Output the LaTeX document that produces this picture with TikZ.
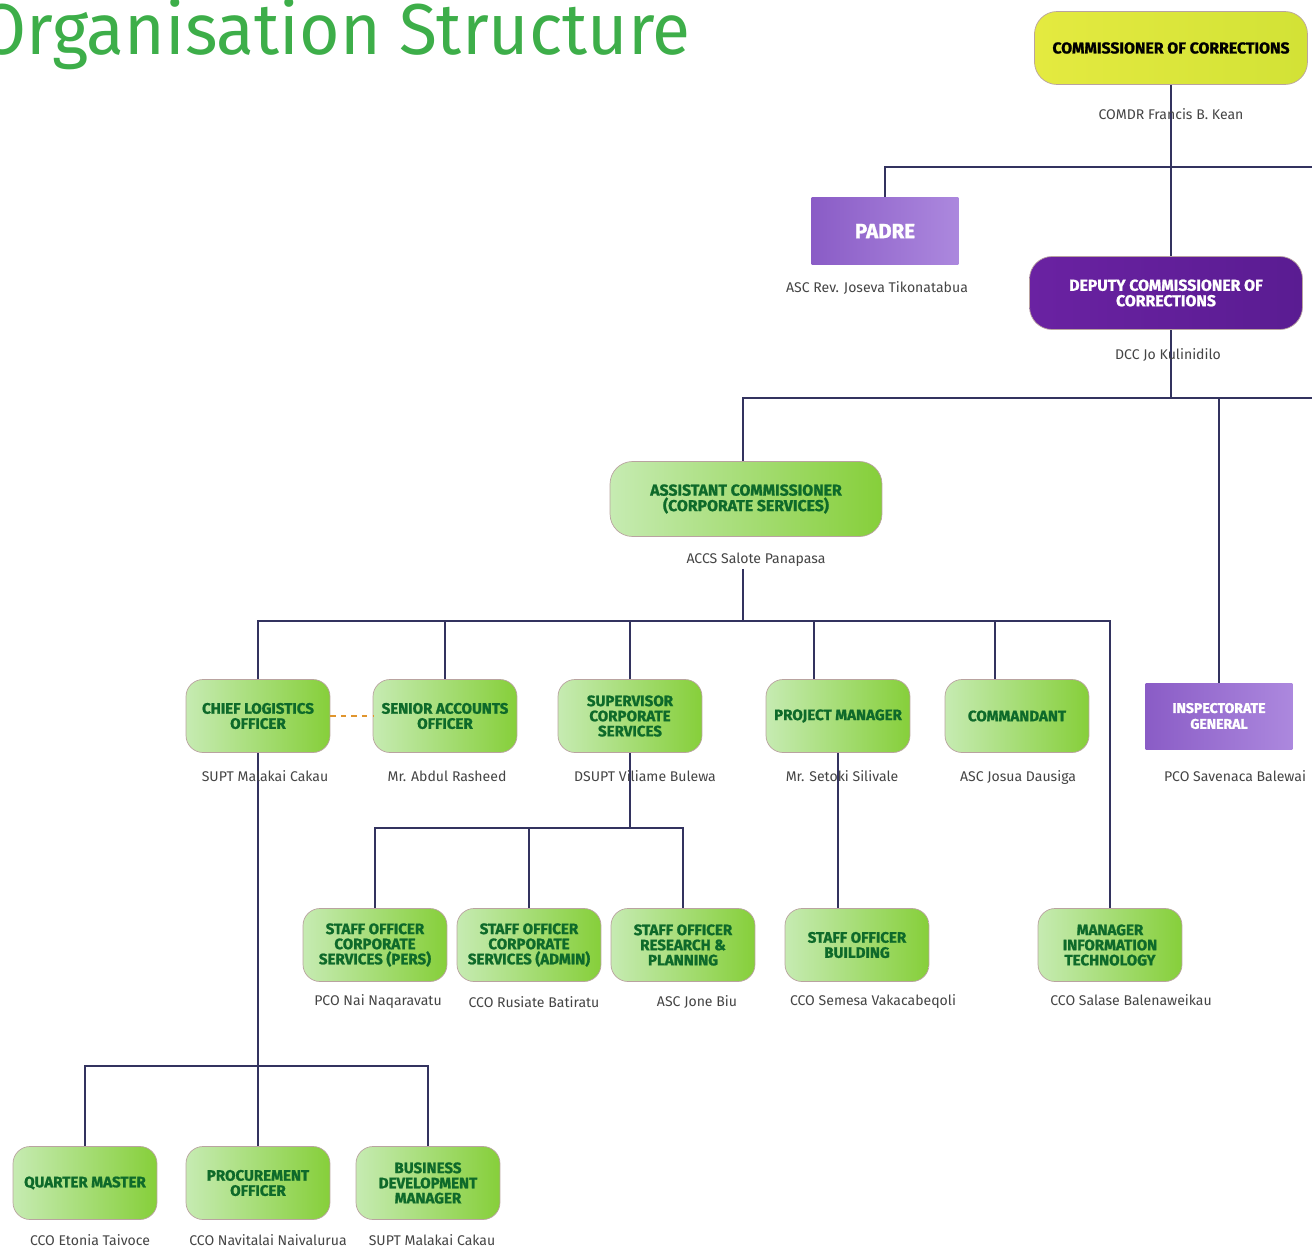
\documentclass[tikz,border=0pt]{standalone}
\usepackage{fontspec}
\setmainfont{Fira Sans}
\newfontfamily\heavyfont{Fira Sans}[BoldFeatures={FakeBold=1.2}]
\usepackage{graphicx}
\usepackage{xcolor}
\usetikzlibrary{backgrounds,positioning}
\definecolor{titlegreen}{HTML}{3DAE49}
\definecolor{greenL}{HTML}{C6EBB2}
\definecolor{greenR}{HTML}{86CF3A}
\definecolor{textgreen}{HTML}{0E6A2A}
\definecolor{yellowL}{HTML}{E4EA40}
\definecolor{yellowR}{HTML}{D2E236}
\definecolor{deepviolet}{HTML}{6A22A2}
\definecolor{deepviolet2}{HTML}{5A1C92}
\definecolor{lilacL}{HTML}{8A5CC6}
\definecolor{lilacR}{HTML}{AC88DE}
\definecolor{boxedge}{HTML}{B9A3A0}
\definecolor{linecol}{HTML}{33335F}
\definecolor{namegray}{HTML}{444444}
\definecolor{dashorange}{HTML}{E0952E}
\tikzset{%
	greenbox/.style  = {draw=boxedge, line width=0.4pt, rounded corners=0.34cm, left color=greenL, right color=greenR, minimum width=2.88cm, minimum height=1.46cm, text=textgreen, font=\heavyfont\fontsize{8.6}{8.6}\selectfont\bfseries, align=center, inner sep=1pt},
	chiefbox/.style  = {draw=boxedge, line width=0.4pt, rounded corners=0.45cm, minimum width=5.46cm, minimum height=1.46cm, font=\heavyfont\fontsize{9}{8.8}\selectfont\bfseries, align=center, inner sep=1pt},
	lilacbox/.style  = {draw=none, left color=lilacL, right color=lilacR, minimum width=2.94cm, minimum height=1.34cm, text=white, align=center, inner sep=1pt},
	namelabel/.style = {text=namegray, font=\fontsize{8}{8}\selectfont, inner sep=1pt},
	conn/.style      = {draw=linecol, line width=0.7pt},
}
\begin{document}
\begin{tikzpicture}[x=0.02cm, y=-0.02cm]
	\useasboundingbox (0,0) rectangle (1312,1251);
	
	\node[anchor=base east, text=titlegreen, font=\fontsize{41}{41}\selectfont] (title) at (697,54) {\scalebox{0.965}[1]{Organisation Structure}};
	
	% top of the chart
	\node[chiefbox, left color=yellowL, right color=yellowR, text=black] (comm) at (1171,48) {COMMISSIONER OF CORRECTIONS};
	\node[namelabel] (comm-n) at (1171,114) {COMDR Francis B. Kean};
	\node[lilacbox, font=\heavyfont\fontsize{11.7}{11.7}\selectfont\bfseries] (padre) at (885,231) {PADRE};
	\node[namelabel] (padre-n) at (877,288) {ASC Rev. Joseva Tikonatabua};
	\node[chiefbox, left color=deepviolet, right color=deepviolet2, text=white] (deputy) at (1166,293) {DEPUTY COMMISSIONER OF\\CORRECTIONS};
	\node[namelabel] (deputy-n) at (1168,355) {DCC Jo Kulinidilo};
	\node[lilacbox, minimum height=1.32cm, font=\heavyfont\fontsize{8}{9}\selectfont\bfseries] (insp) at (1219,716) {INSPECTORATE\\GENERAL};
	\node[namelabel] (insp-n) at (1235,776) {PCO Savenaca Balewai};
	\node[greenbox, minimum width=5.44cm, minimum height=1.5cm, rounded corners=0.45cm, font=\heavyfont\fontsize{9}{8.8}\selectfont\bfseries] (acs) at (746,499) {ASSISTANT COMMISSIONER\\(CORPORATE SERVICES)};
	\node[namelabel] (acs-n) at (756,560) {ACCS Salote Panapasa};
	
	% first row
	\node[greenbox] (clo) at (258,716) {CHIEF LOGISTICS\\OFFICER};
	\node[namelabel] (clo-n) at (265,776) {SUPT Malakai Cakau};
	\node[greenbox] (sao) at (445,716) {SENIOR ACCOUNTS\\OFFICER};
	\node[namelabel] (sao-n) at (447,776) {Mr. Abdul Rasheed};
	\node[greenbox] (scs) at (630,716) {SUPERVISOR\\CORPORATE\\SERVICES};
	\node[namelabel] (scs-n) at (645,776) {DSUPT Viliame Bulewa};
	\node[greenbox] (pm) at (838,716) {PROJECT MANAGER};
	\node[namelabel] (pm-n) at (842,776) {Mr. Setoki Silivale};
	\node[greenbox] (comdt) at (1017,716) {COMMANDANT};
	\node[namelabel] (comdt-n) at (1018,778) {ASC Josua Dausiga};
	
	% second row
	\node[greenbox] (socsp) at (375,945) {STAFF OFFICER\\CORPORATE\\SERVICES (PERS)};
	\node[namelabel] (socsp-n) at (378,1002) {PCO Nai Naqaravatu};
	\node[greenbox] (socsa) at (529,945) {STAFF OFFICER\\CORPORATE\\SERVICES (ADMIN)};
	\node[namelabel] (socsa-n) at (534,1002) {CCO Rusiate Batiratu};
	\node[greenbox] (sorp) at (683,945) {STAFF OFFICER\\RESEARCH \&\\PLANNING};
	\node[namelabel] (sorp-n) at (697,1002) {ASC Jone Biu};
	\node[greenbox] (sob) at (857,945) {STAFF OFFICER\\BUILDING};
	\node[namelabel] (sob-n) at (873,1002) {CCO Semesa Vakacabeqoli};
	\node[greenbox] (mit) at (1110,945) {MANAGER\\INFORMATION\\TECHNOLOGY};
	\node[namelabel] (mit-n) at (1131,1000) {CCO Salase Balenaweikau};
	
	% third row
	\node[greenbox] (qm) at (85,1183) {QUARTER MASTER};
	\node[namelabel] (qm-n) at (90,1240) {CCO Etonia Taivoce};
	\node[greenbox] (proc) at (258,1183) {PROCUREMENT\\OFFICER};
	\node[namelabel] (proc-n) at (268,1240) {CCO Navitalai Naivalurua};
	\node[greenbox] (bdm) at (428,1183) {BUSINESS\\DEVELOPMENT\\MANAGER};
	\node[namelabel] (bdm-n) at (432,1240) {SUPT Malakai Cakau};
	
	\coordinate (bus1) at (1171,167);
	\coordinate (bus1-e) at (1312,167);
	\coordinate (bus2) at (1171,398);
	\coordinate (bus2-e) at (1312,398);
	\coordinate (bus3) at (743,621);
	\coordinate (bus4) at (625,828);
	\coordinate (bus5) at (258,1066);
	
	\begin{scope}[on background layer]
		\draw[conn] (comm.south -| bus1) -- (deputy.north -| bus1);
		\draw[conn] (padre.north) |- (bus1) -- (bus1-e);
		\draw[conn] (deputy.south -| bus2) -- (bus2) -- (bus2-e);
		\draw[conn] (acs.north -| bus3) |- (bus2);
		\draw[conn] (bus2 -| insp.north) -- (insp.north);
		\draw[conn] (bus3 |- acs-n.south) -- (bus3);
		\draw[conn] (clo.north) |- (bus3) -| (mit.north);
		\draw[conn] (sao.north) -- (sao.north |- bus3);
		\draw[conn] (scs.north) -- (scs.north |- bus3);
		\draw[conn] ([xshift=-0.48cm]pm.north) -- ([xshift=-0.48cm]pm.north |- bus3);
		\draw[conn] ([xshift=-0.44cm]comdt.north) -- ([xshift=-0.44cm]comdt.north |- bus3);
		\draw[conn] (scs.south) -- (scs.south |- bus4);
		\draw[conn] (socsp.north) |- (bus4) -| (sorp.north);
		\draw[conn] (socsa.north) -- (socsa.north |- bus4);
		\draw[conn] (pm.south) -- (pm.south |- sob.north);
		\draw[conn] (clo.south) -- (proc.north);
		\draw[conn] (qm.north) |- (bus5) -| (bdm.north);
	\end{scope}
	
	\draw[dashorange, dashed, line width=1.5pt] (clo.east) -- (sao.west);
\end{tikzpicture}
\end{document}
